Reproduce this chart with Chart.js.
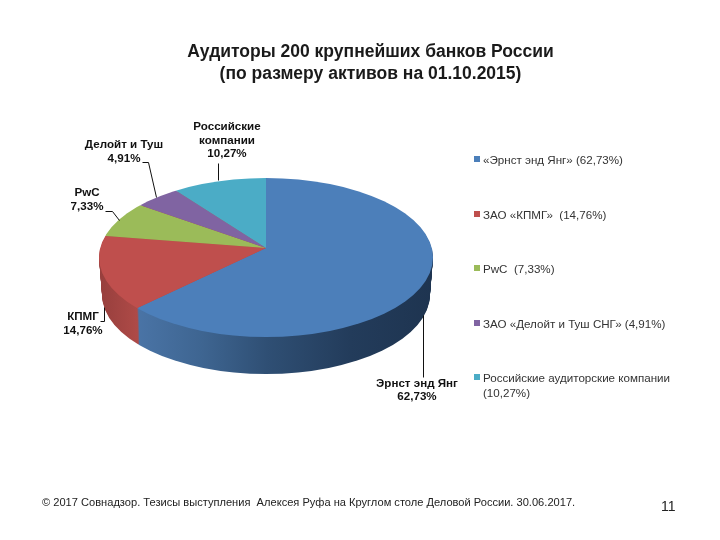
<!DOCTYPE html>
<html lang="ru">
<head>
  <meta charset="UTF-8" />
  <title>Аудиторы 200 крупнейших банков России</title>
  <script src="https://cdn.jsdelivr.net/npm/chart.js"></script>
  <style>
    body { margin: 0; background: #fff; font-family: "Liberation Sans", Arial, sans-serif; }
    #page { position: relative; width: 720px; height: 540px; overflow: hidden; }
    canvas { position: absolute; left: 0; top: 0; }
    .txt { position: absolute; white-space: pre; }
    #title { left: 170px; width: 401px; top: 40px; text-align: center; font-weight: bold; font-size: 17.5px; line-height: 22px; color: #1a1a1a; }
    #footer { left: 42px; top: 496px; font-size: 11.1px; line-height: 12px; color: #222; }
    #pageno { left: 661px; top: 498px; font-size: 14px; line-height: 16px; color: #222; }
    .legend-row { position: absolute; left: 483px; font-size: 11.6px; line-height: 15px; color: #333; white-space: pre; }
    .legend-box { position: absolute; left: -9px; top: 4px; width: 6px; height: 6px; }
  </style>
</head>
<body>
  <div id="page">
    <canvas id="pie" width="720" height="540"></canvas>
    <div class="txt" id="title">Аудиторы 200 крупнейших банков России
(по размеру активов на 01.10.2015)</div>
    <div id="legend"></div>
    <div class="txt" id="footer">© 2017 Совнадзор. Тезисы выступления  Алексея Руфа на Круглом столе Деловой России. 30.06.2017.</div>
    <div class="txt" id="pageno">11</div>
  </div>
  <script>
    const categories = ["Эрнст энд Янг", "КПМГ", "PwC", "Делойт и Туш", "Российские компании"];
    const shares = [62.73, 14.76, 7.33, 4.91, 10.27];
    const legendNames = ["«Эрнст энд Янг» (62,73%)", "ЗАО «КПМГ»  (14,76%)", "PwC  (7,33%)", "ЗАО «Делойт и Туш СНГ» (4,91%)", "Российские аудиторские компании\n(10,27%)"];
    const colors = ["#4c7fba", "#bf4f4d", "#9bbb59", "#8064a2", "#4bacc6"];

    // where the tilted pie sits on the page
    const apexX = 266, apexY = 248, rimY = 257.5, rimRx = 167, rimRy = 79.5;
    const squash = 80 / 167, depth = 37, shrink = 3;

    // data label placement: centre x, first line y, leader polyline
    const labelSpots = [
      { x: 417, y: 383.5, lead: [[423, 315], [423, 377]] },
      { x: 83, y: 317, lead: [[100, 321], [104, 321], [104, 307]] },
      { x: 87, y: 193, lead: [[105, 211], [112, 211], [119, 220]] },
      { x: 124, y: 145, lead: [[142, 162], [148, 162], [156, 197]] },
      { x: 227, y: 127, lead: [[218, 163], [218, 180]] }
    ];
    const labelLines = [["Эрнст энд Янг"], ["КПМГ"], ["PwC"], ["Делойт и Туш"], ["Российские", "компании"]];
    const legendY = [152, 207, 261, 316, 370];

    const legendBox = document.getElementById("legend");
    legendNames.forEach((name, i) => {
      const row = document.createElement("div");
      row.className = "legend-row";
      row.style.top = legendY[i] + "px";
      row.textContent = name;
      const box = document.createElement("div");
      box.className = "legend-box";
      box.style.background = colors[i];
      row.appendChild(box);
      legendBox.appendChild(row);
    });

    function wallFill(ctx, chartX, i) {
      const toChart = x => x - apexX + chartX;
      const g = ctx.createLinearGradient(toChart(i === 0 ? 137 : 100), 0, toChart(i === 0 ? 433 : 137), 0);
      if (i === 0) {
        g.addColorStop(0, "#4a74a6");
        g.addColorStop(0.22, "#3e6591");
        g.addColorStop(0.44, "#2f4f74");
        g.addColorStop(0.72, "#233c5b");
        g.addColorStop(1, "#1e3450");
      } else {
        g.addColorStop(0, "#973f3d");
        g.addColorStop(1, "#ae4a47");
      }
      return g;
    }

    // Chart.js has no 3D pie, so the arcs are redrawn squashed, with shifted dark copies as the wall
    const tiltedPie = {
      id: "tiltedPie",
      beforeDatasetsDraw(chart) {
        const ctx = chart.ctx;
        const arcs = chart.getDatasetMeta(0).data;
        const cx = arcs[0].x, cy = arcs[0].y;
        const layer = (dy, fill) => {
          const k = dy / depth;
          ctx.save();
          ctx.beginPath();
          ctx.ellipse(apexX, rimY + dy, rimRx - shrink * k, rimRy, 0, 0, Math.PI * 2);
          ctx.clip();
          ctx.translate(apexX, apexY + dy);
          ctx.scale(1, squash);
          ctx.translate(-cx, -cy);
          arcs.forEach((arc, i) => {
            const saved = arc.options;
            if (fill) arc.options = Object.assign({}, saved, { backgroundColor: fill(i, cx) });
            arc.draw(ctx);
            arc.options = saved;
          });
          ctx.restore();
        };
        // only the blue and red walls ever show; the back slices take the red one at the left edge
        const wall = (i, x) => wallFill(ctx, x, i);
        for (let dy = depth; dy > 0; dy--) layer(dy, wall);
        layer(0, null);
        return false;
      },
      afterDraw(chart) {
        const ctx = chart.ctx;
        ctx.save();
        ctx.strokeStyle = "#111";
        ctx.lineWidth = 1;
        labelSpots.forEach(spot => {
          ctx.beginPath();
          spot.lead.forEach((p, j) => (j ? ctx.lineTo(p[0] + 0.5, p[1] + 0.5) : ctx.moveTo(p[0] + 0.5, p[1] + 0.5)));
          ctx.stroke();
        });
        ctx.fillStyle = "#111";
        ctx.font = "bold 11.6px 'Liberation Sans', Arial, sans-serif";
        ctx.textAlign = "center";
        ctx.textBaseline = "middle";
        labelSpots.forEach((spot, i) => {
          const lines = labelLines[i].concat(String(shares[i]).replace(".", ",") + "%");
          lines.forEach((t, j) => ctx.fillText(t, spot.x, spot.y + j * 13.5));
        });
        ctx.restore();
      }
    };

    new Chart(document.getElementById("pie"), {
      type: "pie",
      data: {
        labels: categories,
        datasets: [{ data: shares, backgroundColor: colors, borderWidth: 0, radius: 190 }]
      },
      options: {
        responsive: false,
        animation: false,
        events: [],
        plugins: { legend: { display: false }, tooltip: { enabled: false } }
      },
      plugins: [tiltedPie]
    });
  </script>
</body>
</html>
